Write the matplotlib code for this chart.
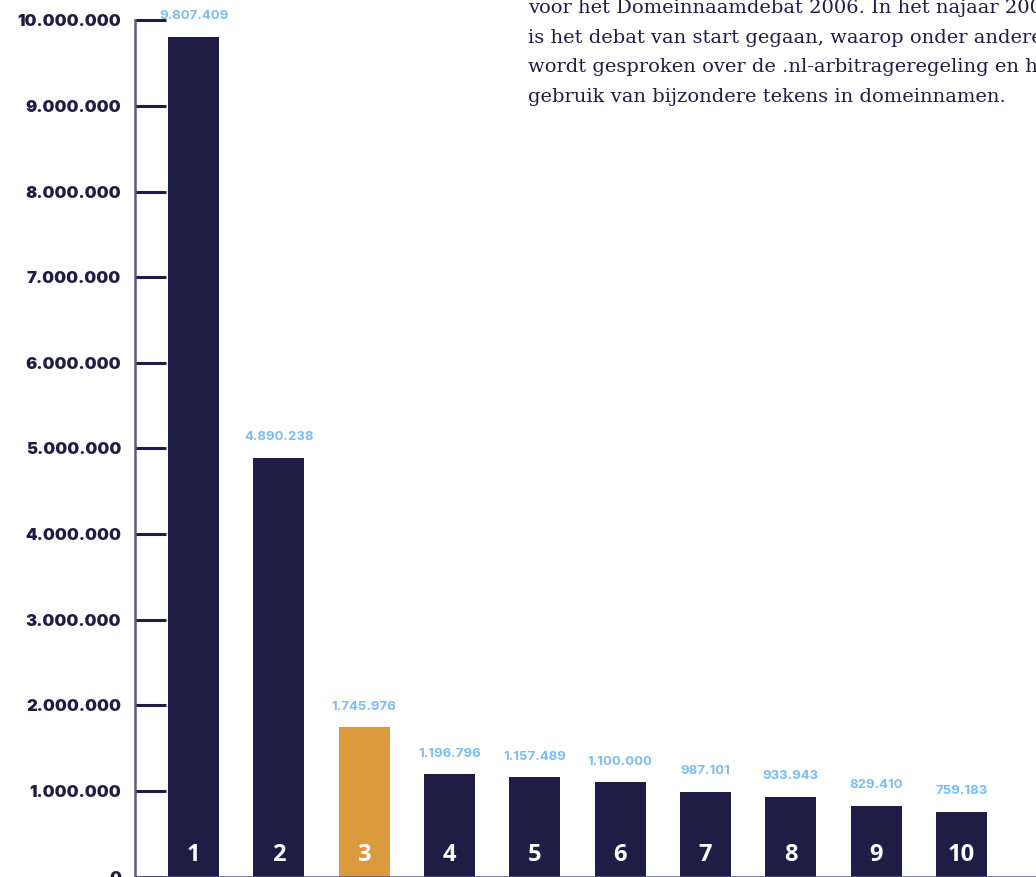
import matplotlib.pyplot as plt

# top 10 ccTLD's / registraties
ranks = ["1", "2", "3", "4", "5", "6", "7", "8", "9", "10"]
values = [9807409, 4890238, 1745976, 1196796, 1157489, 1100000, 987101, 933943, 829410, 759183]
highlight = 2  # index of .nl bar

navy = "#1f1d45"
orange = "#db9a3d"
lblue = "#7dbdee"
axgrey = "#5d5b80"

text_lines = [
    "voor het Domeinnaamdebat 2006. In het najaar 2005",
    "is het debat van start gegaan, waarop onder andere",
    "wordt gesproken over de .nl-arbitrageregeling en het",
    "gebruik van bijzondere tekens in domeinnamen.",
]


def fmt(v):
    return "{:,}".format(v).replace(",", ".")


fig = plt.figure(figsize=(10.36, 8.77), dpi=100)
ax = fig.add_axes([0.1303, 0.0005, 0.8697, 0.9762])

x = list(range(1, len(values) + 1))
colors = [orange if i == highlight else navy for i in range(len(values))]
bars = ax.bar(x, values, width=0.6, color=colors, zorder=2)

for xi, v, r in zip(x, values, ranks):
    ax.text(xi, v + 170000, fmt(v), ha="center", va="bottom",
            color=lblue, fontsize=9.5, fontweight="bold", family="Inter")
    ax.text(xi, 250000, r, ha="center", va="center",
            color="white", fontsize=17, fontweight="bold", family="Open Sans")

ax.set_xlim(0.314, 10.873)
ax.set_ylim(0, 10000000)

yt = list(range(0, 10000001, 1000000))
ax.set_yticks(yt)
ax.set_yticklabels([fmt(t) for t in yt], fontsize=12, fontweight=900,
                   color=navy, family="Inter")
ax.set_xticks([])
ax.tick_params(axis="y", direction="in", length=22, width=2.2, color=navy, pad=10)

for s in ["top", "right"]:
    ax.spines[s].set_visible(False)
ax.spines["left"].set_color(axgrey)
ax.spines["left"].set_linewidth(1.8)
ax.spines["bottom"].set_color(axgrey)
ax.spines["bottom"].set_linewidth(1.8)

for i, line in enumerate(text_lines):
    fig.text(0.5097, 0.9852 - i * 0.0339, line, ha="left", va="baseline",
             fontsize=14, color=navy, family="DejaVu Serif")

fig.savefig("out.png", dpi=100)
